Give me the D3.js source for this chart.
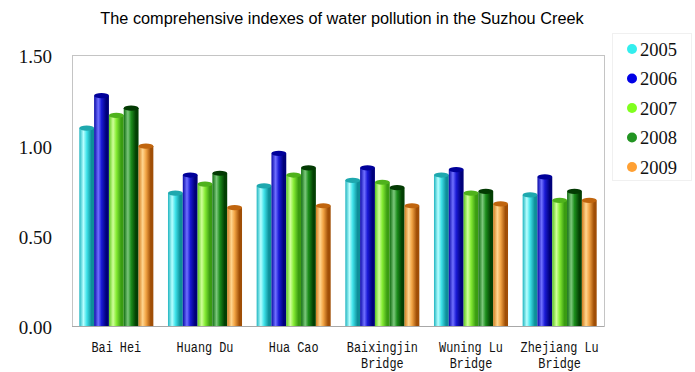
<!DOCTYPE html>
<html>
<head>
<meta charset="utf-8">
<script src="https://cdn.jsdelivr.net/npm/d3@7"></script>
<style>
  html, body { margin: 0; padding: 0; background: #fff; }
  svg { display: block; }
</style>
</head>
<body>
<svg id="chart" width="695" height="372"></svg>
<script>
// Monitoring sites along the creek (second line used for "Bridge")
const categories = [
  ["Bai Hei"],
  ["Huang Du"],
  ["Hua Cao"],
  ["Baixingjin", "Bridge"],
  ["Wuning Lu", "Bridge"],
  ["Zhejiang Lu", "Bridge"]
];
const years = ["2005", "2006", "2007", "2008", "2009"];

// Comprehensive pollution index per year, one value per site
const values2005 = [1.11, 0.75, 0.79, 0.82, 0.85, 0.74];
const values2006 = [1.29, 0.85, 0.97, 0.89, 0.88, 0.84];
const values2007 = [1.18, 0.80, 0.85, 0.81, 0.75, 0.71];
const values2008 = [1.22, 0.86, 0.89, 0.78, 0.76, 0.76];
const values2009 = [1.01, 0.67, 0.68, 0.68, 0.69, 0.71];
const seriesValues = [values2005, values2006, values2007, values2008, values2009];

const yTicks = [0, 0.5, 1.0, 1.5];

// Cylinder shading per year: [edge, highlight, body, shade, cap, legend]
const palette = [
  ["#1fb5c0", "#b8ffff", "#3fe3ea", "#0e8f99", "#1ea8ae", "#33eeee"],
  ["#0a0aa8", "#7070ff", "#1a1ad6", "#00007a", "#00009a", "#0000e6"],
  ["#5cc81e", "#d0ff9a", "#86ec34", "#3a9c12", "#4fb21c", "#80ff1e"],
  ["#106d10", "#7cc87c", "#1c8e1c", "#034003", "#033a03", "#229422"],
  ["#d27d1e", "#ffd690", "#f2a444", "#a04e06", "#c0650e", "#ffa033"]
];

const svg = d3.select("#chart");
const margin = { left: 72, right: 91, top: 55, bottom: 46 };
const W = 695, H = 372;
const plotW = W - margin.left - margin.right;
const plotH = H - margin.top - margin.bottom;

const x0 = d3.scaleBand()
  .domain(d3.range(categories.length))
  .range([margin.left, margin.left + plotW])
  .paddingInner(0.165)
  .paddingOuter(0.0825);
const x1 = d3.scaleBand()
  .domain(years)
  .range([0, x0.bandwidth()]);
const y = d3.scaleLinear()
  .domain([0, 1.5])
  .range([margin.top + plotH, margin.top]);

// Gradients giving each bar a lit cylinder look
const defs = svg.append("defs");
years.forEach((yr, i) => {
  const c = palette[i];
  const g = defs.append("linearGradient")
    .attr("id", "cyl" + yr)
    .attr("x1", "0%").attr("x2", "100%").attr("y1", "0%").attr("y2", "0%");
  [[0, c[0]], [0.28, c[1]], [0.5, c[2]], [0.82, c[3]], [1, c[3]]].forEach(([o, col]) => {
    g.append("stop").attr("offset", o).attr("stop-color", col);
  });
});

// Title
svg.append("text")
  .attr("x", 342).attr("y", 24)
  .attr("text-anchor", "middle")
  .attr("font-family", "'Liberation Sans', Arial, sans-serif")
  .attr("font-size", 16.3)
  .attr("fill", "#000")
  .text("The comprehensive indexes of water pollution in the Suzhou Creek");

// Plot frame
svg.append("rect")
  .attr("x", margin.left + 0.5).attr("y", margin.top + 0.5)
  .attr("width", plotW).attr("height", plotH)
  .attr("fill", "none")
  .attr("stroke", "#c4c4c4")
  .attr("stroke-width", 1);

// Y axis labels
const yAxis = d3.axisLeft(y)
  .tickValues(yTicks)
  .tickFormat(d3.format(".2f"))
  .tickSize(0)
  .tickPadding(20);
const yg = svg.append("g")
  .attr("transform", `translate(${margin.left},0)`)
  .call(yAxis);
yg.select(".domain").remove();
yg.selectAll("text")
  .attr("font-family", "'Liberation Serif', 'Times New Roman', serif")
  .attr("font-size", 19)
  .attr("fill", "#111")
  .attr("dy", "0.42em");

// Bars
const capRy = 2.6;
years.forEach((yr, si) => {
  const vals = seriesValues[si];
  const g = svg.append("g");
  const bw = x1.bandwidth();
  vals.forEach((v, ci) => {
    const bx = x0(ci) + x1(yr);
    const top = y(v) + capRy;
    g.append("rect")
      .attr("x", bx).attr("y", top)
      .attr("width", bw).attr("height", y(0) - top)
      .attr("fill", `url(#cyl${yr})`);
    g.append("ellipse")
      .attr("cx", bx + bw / 2).attr("cy", top)
      .attr("rx", bw / 2).attr("ry", capRy)
      .attr("fill", palette[si][4]);
  });
});

// Baseline
svg.append("line")
  .attr("x1", margin.left).attr("x2", margin.left + plotW)
  .attr("y1", y(0) + 0.5).attr("y2", y(0) + 0.5)
  .attr("stroke", "#a8a8a8");

// Category labels
const xg = svg.append("g");
categories.forEach((lines, ci) => {
  const cx = x0(ci) + x0.bandwidth() / 2;
  const t = xg.append("text")
    .attr("x", cx).attr("y", 352)
    .attr("text-anchor", "middle")
    .attr("font-family", "'Liberation Mono', 'Courier New', monospace")
    .attr("font-size", 14)
    .attr("fill", "#111");
  lines.forEach((ln, li) => {
    t.append("tspan")
      .attr("x", cx)
      .attr("dy", li === 0 ? 0 : 15.5)
      .attr("textLength", ln.length * 7.1)
      .attr("lengthAdjust", "spacingAndGlyphs")
      .text(ln);
  });
});

// Legend
const lg = svg.append("g");
lg.append("rect")
  .attr("x", 612.5).attr("y", 33.5)
  .attr("width", 79).attr("height", 147)
  .attr("fill", "#fff")
  .attr("stroke", "#f0f0f0");
years.forEach((yr, i) => {
  const cy = 49 + i * 29.5;
  lg.append("circle")
    .attr("cx", 632).attr("cy", cy).attr("r", 5)
    .attr("fill", palette[i][5]);
  lg.append("text")
    .attr("x", 640).attr("y", cy + 6.5)
    .attr("font-family", "'Liberation Serif', 'Times New Roman', serif")
    .attr("font-size", 18.5)
    .attr("fill", "#111")
    .text(yr);
});
</script>
</body>
</html>
